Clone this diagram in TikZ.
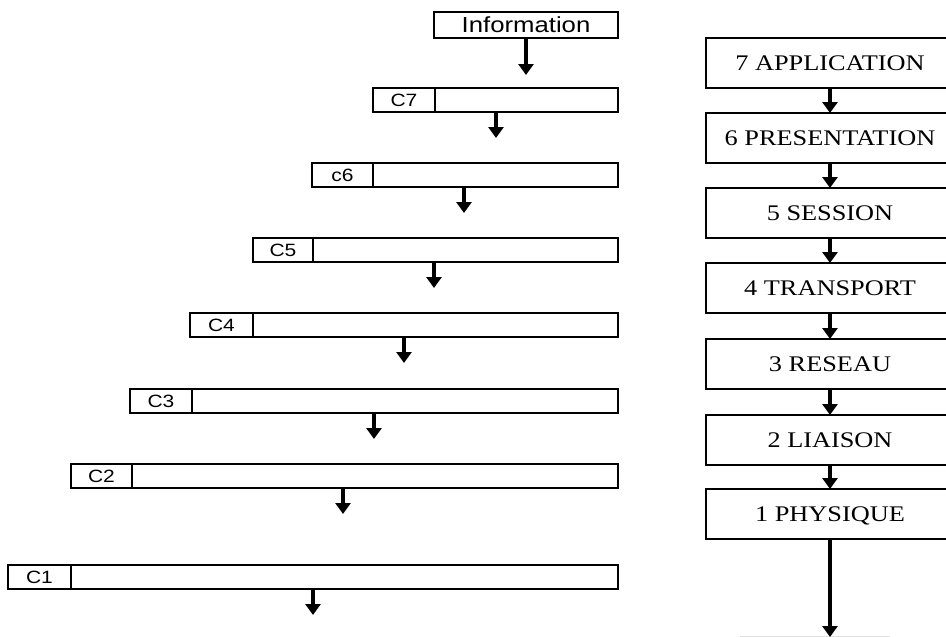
\documentclass[tikz,border=0pt]{standalone}
\usepackage{fontspec}
\setmainfont{Liberation Serif}[FakeStretch=1.18]
\newfontfamily\labelfont{Liberation Sans}[FakeStretch=1.18]
\usetikzlibrary{arrows.meta}

\begin{document}
\begin{tikzpicture}[x=1pt,y=-1pt,
  bar/.style={draw, line width=1.3pt, minimum height=24pt, inner sep=0pt,
    outer sep=0pt, anchor=north west},
  tag/.style={bar, font=\labelfont\fontsize{17.8}{18}\selectfont,
    text height=12.7pt, text depth=0pt},
  layer/.style={draw, line width=1.6pt, minimum width=248pt, minimum height=50pt,
    inner sep=0pt, outer sep=0pt, anchor=north west,
    font=\fontsize{22.3}{23}\selectfont, text height=14.8pt, text depth=0pt},
  flow/.style={line width=3.4pt, -{Triangle[width=15pt,length=11pt]}}
]
\clip (0,0) rectangle (946,637);
\useasboundingbox (0,0) rectangle (946,637);

% incoming data
\node[bar, minimum width=184pt, minimum height=26pt,
  font=\labelfont\fontsize{21.8}{22}\selectfont, text height=15.6pt, text depth=0pt]
  (info) at (434,12) {Information};
\coordinate (tinfo) at (526,75);
\draw[flow] (tinfo |- info.south) -- (tinfo);

% encapsulation: each layer adds its header in front of the data
\foreach \n/\lab/\l/\d/\t/\ax in {
    7/C7/373/435/88/496,
    6/c6/312/373/163/464,
    5/C5/253/313/238/434,
    4/C4/190/253/313/404,
    3/C3/130/192/389/374,
    2/C2/71/132/464/343,
    1/C1/8/71/565/313}{
  \pgfmathsetmacro{\hw}{\d-\l}
  \pgfmathsetmacro{\bw}{618-\d}
  \pgfmathsetmacro{\ty}{\t+50}
  \node[tag, minimum width=\hw pt] (hdr\n) at (\l,\t) {\lab};
  \node[bar, minimum width=\bw pt] (body\n) at (\d,\t) {};
  \coordinate (tip\n) at (\ax,\ty);
  \draw[flow] (tip\n |- body\n.south) -- (tip\n);
}

% OSI stack
\foreach \n/\lab/\t in {
    7/7 APPLICATION/38,
    6/6 PRESENTATION/113,
    5/5 SESSION/188,
    4/4 TRANSPORT/263,
    3/3 RESEAU/339,
    2/2 LIAISON/415,
    1/1 PHYSIQUE/489}{
  \node[layer] (osi\n) at (706,\t) {\lab};
}
\foreach \a/\b in {7/6,6/5,5/4,4/3,3/2,2/1}{
  \draw[flow] (osi\a.south) -- (osi\b.north);
}
\coordinate (wire) at (830,637);
\draw[gray!25, line width=1pt] (740,636) -- (890,636);
\draw[flow] (osi1.south) -- (wire);
\end{tikzpicture}
\end{document}
